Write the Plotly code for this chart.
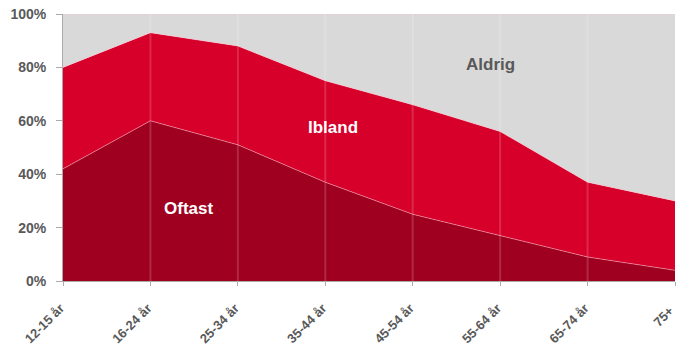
import plotly.graph_objects as go

categories = ["12-15 år", "16-24 år", "25-34 år", "35-44 år", "45-54 år", "55-64 år", "65-74 år", "75+"]
oftast = [42, 60, 51, 37, 25, 17, 9, 4]
ibland = [38, 33, 37, 38, 41, 39, 28, 26]
aldrig = [20, 7, 12, 25, 34, 44, 63, 70]
y_ticks = [0, 20, 40, 60, 80, 100]
y_labels = ["0%", "20%", "40%", "60%", "80%", "100%"]

series = [
    ("Oftast", oftast, "#A0001F"),
    ("Ibland", ibland, "#D6002A"),
    ("Aldrig", aldrig, "#D9D9D9"),
]

fig = go.Figure()
for name, vals, col in series:
    fig.add_trace(go.Scatter(
        x=categories, y=vals, name=name, mode="lines", stackgroup="one",
        fillcolor=col, line=dict(color="rgba(255,190,205,0.7)", width=0.7),
        hoverinfo="x+y+name",
    ))

# vertical gridlines drawn above the areas
for c in categories[1:-1]:
    fig.add_shape(type="line", xref="x", yref="paper", x0=c, x1=c, y0=0, y1=1,
                  line=dict(color="rgba(255,255,255,0.16)", width=2), layer="above")

label_font = dict(family="Liberation Sans, Arial, sans-serif", size=17)
fig.add_annotation(x=1.43, y=27, xref="x", yref="y", text="<b>Oftast</b>", showarrow=False,
                   font=dict(color="white", **label_font))
fig.add_annotation(x=3.09, y=57.5, xref="x", yref="y", text="<b>Ibland</b>", showarrow=False,
                   font=dict(color="white", **label_font))
fig.add_annotation(x=4.89, y=81, xref="x", yref="y", text="<b>Aldrig</b>", showarrow=False,
                   font=dict(color="#595959", **label_font))

tick_text = ["<b>%s&nbsp;</b>" % c for c in categories[:-1]] + ["<b>%s&nbsp;&nbsp;</b>" % categories[-1]]

fig.update_layout(
    width=678, height=347,
    margin=dict(l=63, r=3, t=14, b=66),
    paper_bgcolor="white", plot_bgcolor="white",
    showlegend=False,
    xaxis=dict(
        type="category", range=[0, len(categories) - 1], automargin=False,
        tickmode="array", tickvals=categories, ticktext=tick_text,
        tickangle=-45, ticklabelstandoff=7,
        tickfont=dict(family="Liberation Sans, Arial, sans-serif", size=13, color="#595959"),
        showgrid=False, zeroline=False,
        showline=True, linecolor="#AAAAAA", linewidth=1,
        ticks="outside", ticklen=4, tickcolor="#AAAAAA",
    ),
    yaxis=dict(
        range=[0, 100], automargin=False,
        tickmode="array", tickvals=y_ticks,
        ticktext=["<b>%s</b>" % t for t in y_labels],
        tickfont=dict(family="Liberation Sans, Arial, sans-serif", size=14, color="#595959"),
        ticklabelstandoff=7,
        showgrid=True, gridcolor="#CCCCCC", gridwidth=1, zeroline=False,
        showline=True, linecolor="#AAAAAA", linewidth=1,
        ticks="outside", ticklen=6, tickcolor="#AAAAAA",
    ),
)

fig.write_html("out.html")
